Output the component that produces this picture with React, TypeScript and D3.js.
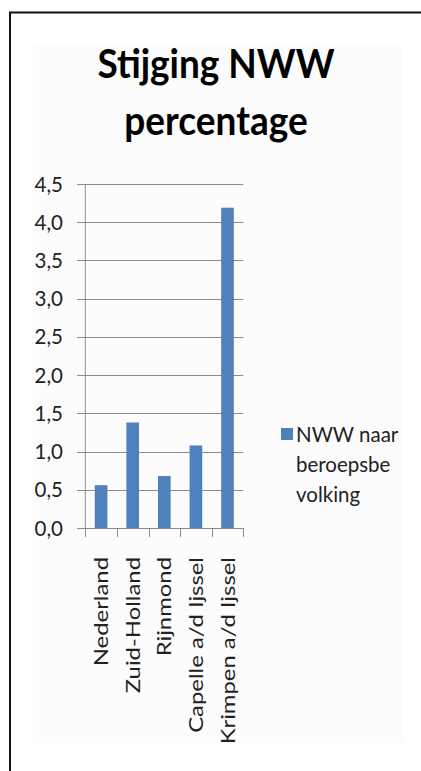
import React from "react";
import * as d3 from "d3";

const categories = ["Nederland", "Zuid-Holland", "Rijnmond", "Capelle a/d Ijssel", "Krimpen a/d Ijssel"];
const values = [0.56, 1.38, 0.68, 1.08, 4.19];
const yTicks = [0, 0.5, 1, 1.5, 2, 2.5, 3, 3.5, 4, 4.5];
const titleLines = ["Stijging NWW", "percentage"];
const legendLines = ["NWW naar", "beroepsbe", "volking"];

const W = 421;
const H = 771;
const FONT = "Lato, 'Open Sans', sans-serif";

export default function App() {
  const left = 85.3;
  const right = 243.3;
  const top = 184;
  const bottom = 528;
  const y = d3.scaleLinear().domain([0, 4.5]).range([bottom, top]);
  const x = d3.scaleBand<string>().domain(categories).range([left, right]).paddingInner(0.6).paddingOuter(0.3);
  const xt = d3.scaleBand<string>().domain(categories).range([left, right]).padding(0);
  const fmt = (v: number) => d3.format(".1f")(v).replace(".", ",");
  const boundaries = [...categories.map((c) => xt(c) as number), right];

  return (
    <svg width={W} height={H} style={{ position: "absolute", left: 0, top: 0 }}>
      <rect x={0} y={0} width={W} height={H} fill="#ffffff" />
      <rect x={33} y={44} width={369} height={699} fill="#fcfcfc" />
      <line x1={10} y1={12} x2={10} y2={H} stroke="#111" strokeWidth={2} />
      <line x1={9} y1={12.5} x2={W} y2={12.5} stroke="#111" strokeWidth={2} />

      {titleLines.map((t, i) => (
        <text
          key={t}
          transform={`translate(216,${78 + i * 57}) scale(1,1.06)`}
          textAnchor="middle"
          fontFamily={FONT}
          fontWeight="bold"
          fontSize={37}
          fill="#000"
        >
          {t}
        </text>
      ))}

      {yTicks.map((t) => (
        <g key={t}>
          <line x1={77} x2={right} y1={Math.round(y(t)) + 0.5} y2={Math.round(y(t)) + 0.5} stroke="#8c8c8c" strokeWidth={1} />
          <text x={63} y={y(t)} dy="0.37em" textAnchor="end" fontFamily={FONT} fontSize={20.5} fill="#222">
            {fmt(t)}
          </text>
        </g>
      ))}
      <line x1={left} x2={left} y1={top} y2={bottom} stroke="#8c8c8c" strokeWidth={1} />
      {boundaries.map((b, i) => (
        <line key={i} x1={Math.round(b) + 0.5} x2={Math.round(b) + 0.5} y1={bottom} y2={537} stroke="#8c8c8c" strokeWidth={1} />
      ))}

      {categories.map((c, i) => (
        <rect key={c} x={x(c)} y={y(values[i])} width={x.bandwidth()} height={bottom - y(values[i])} fill="#4f81bd" />
      ))}

      {categories.map((c) => {
        const cx = (xt(c) as number) + xt.bandwidth() / 2 + 7;
        return (
          <text
            key={c}
            transform={`translate(${cx},557) rotate(-90) scale(1.29,1)`}
            textAnchor="end"
            fontFamily={FONT}
            fontSize={18.5}
            fill="#222"
          >
            {c}
          </text>
        );
      })}

      <rect x={281} y={428} width={12} height={12} fill="#4f81bd" />
      {legendLines.map((t, i) => (
        <text key={t} transform={`translate(296,${442 + i * 30}) scale(1,1.05)`} fontFamily={FONT} fontSize={20.5} fill="#222">
          {t}
        </text>
      ))}
    </svg>
  );
}
